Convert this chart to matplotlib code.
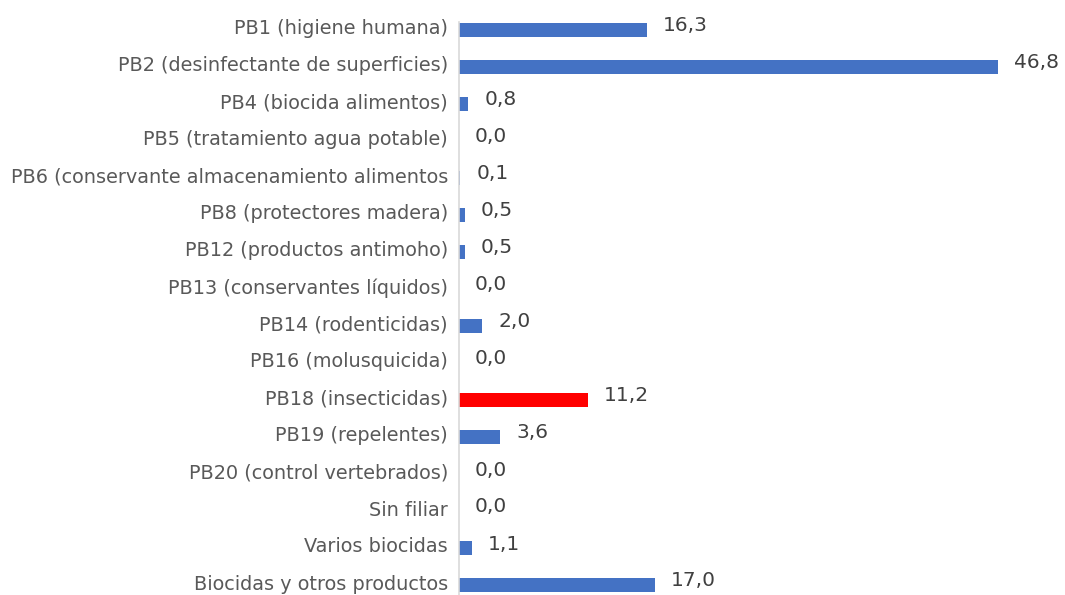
import matplotlib
matplotlib.use("Agg")
import matplotlib.pyplot as plt
import matplotlib.transforms as mtransforms

categories = [
    "PB1 (higiene humana)",
    "PB2 (desinfectante de superficies)",
    "PB4 (biocida alimentos)",
    "PB5 (tratamiento agua potable)",
    "PB6 (conservante almacenamiento alimentos",
    "PB8 (protectores madera)",
    "PB12 (productos antimoho)",
    "PB13 (conservantes líquidos)",
    "PB14 (rodenticidas)",
    "PB16 (molusquicida)",
    "PB18 (insecticidas)",
    "PB19 (repelentes)",
    "PB20 (control vertebrados)",
    "Sin filiar",
    "Varios biocidas",
    "Biocidas y otros productos",
]
values = [16.3, 46.8, 0.8, 0.0, 0.1, 0.5, 0.5, 0.0, 2.0, 0.0, 11.2, 3.6, 0.0, 0.0, 1.1, 17.0]
highlight = "PB18 (insecticidas)"

BLUE = "#4472C4"
RED = "#FF0000"
TEXT = "#595959"

plt.rcParams["font.family"] = ["DejaVu Sans"]

W, H = 1065, 595
fig = plt.figure(figsize=(W / 100, H / 100), dpi=100)
ax = fig.add_axes([459 / W, 0, (W - 459) / W, (H - 22) / H])

y = list(range(len(categories)))
colors = [RED if c == highlight else BLUE for c in categories]
ax.barh(y, values, height=0.36, color=colors)

for yi, v in zip(y, values):
    ax.annotate(f"{v:.1f}".replace(".", ","), xy=(v, yi), xytext=(16, 4),
                textcoords="offset pixels", ha="left", va="center",
                fontsize=14.5, color="#404040")

ax.set_ylim((595 - 30) / 37, -8 / 37)
ax.set_xlim(0, (W - 459) / 11.52)

ax.set_yticks(y)
ax.set_yticklabels(categories, fontsize=13.85, color=TEXT)
ax.tick_params(axis="y", length=0, pad=8)
shift = mtransforms.ScaledTranslation(0, 3 / 100, fig.dpi_scale_trans)
for lbl in ax.get_yticklabels():
    lbl.set_transform(lbl.get_transform() + shift)
ax.set_xticks([])
for s in ["top", "right", "bottom"]:
    ax.spines[s].set_visible(False)
ax.spines["left"].set_color("#D9D9D9")
ax.spines["left"].set_linewidth(1.2)

fig.savefig("out.png", dpi=100)
